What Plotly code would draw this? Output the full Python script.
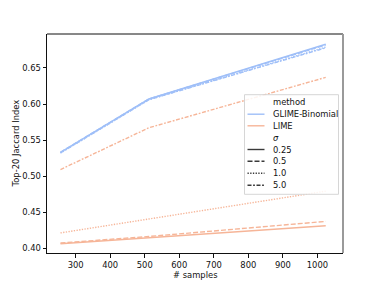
import plotly.graph_objects as go

samples = [256, 512, 1024]
methods = ["GLIME-Binomial", "LIME"]
sigmas = ["0.25", "0.5", "1.0", "5.0"]

glime_025 = [0.533, 0.607, 0.683]
glime_05 = [0.533, 0.607, 0.682]
glime_10 = [0.532, 0.606, 0.679]
glime_50 = [0.532, 0.606, 0.678]
lime_025 = [0.406, 0.414, 0.431]
lime_05 = [0.407, 0.416, 0.437]
lime_10 = [0.421, 0.440, 0.479]
lime_50 = [0.509, 0.567, 0.637]

y_ticks = [0.40, 0.45, 0.50, 0.55, 0.60, 0.65]
x_ticks = [300, 400, 500, 600, 700, 800, 900, 1000]

colors = {"GLIME-Binomial": "#9fbff8", "LIME": "#f6b598"}
dashes = {"0.25": "solid", "0.5": "5px,2px", "1.0": "1.3px,1.4px", "5.0": "4px,1.6px,1.8px,1.6px"}

series = {
    ("GLIME-Binomial", "0.25"): glime_025,
    ("GLIME-Binomial", "0.5"): glime_05,
    ("GLIME-Binomial", "1.0"): glime_10,
    ("GLIME-Binomial", "5.0"): glime_50,
    ("LIME", "0.25"): lime_025,
    ("LIME", "0.5"): lime_05,
    ("LIME", "1.0"): lime_10,
    ("LIME", "5.0"): lime_50,
}

FONT = "DejaVu Sans"
OFF = 8  # page body margin offset
W, H = 381 - OFF, 286 - OFF
L, R, T, B = 47 - OFF, 343 - OFF, 34 - OFF, 253 - OFF

fig = go.Figure()
for (m, s), vals in series.items():
    fig.add_trace(go.Scatter(
        x=samples, y=vals, mode="lines", showlegend=False,
        line=dict(color=colors[m], width=1.4, dash=dashes[s]),
        name=f"{m} σ={s}",
    ))

def px(x):
    return (x - OFF - L) / (R - L)

def py(y):
    return (B - (y - OFF)) / (B - T)

shapes = []
annotations = []
# top spine
shapes.append(dict(type="line", xref="paper", yref="paper", x0=0, x1=1, y0=1, y1=1,
                   line=dict(color="#111", width=1)))
# right spine (greyish)
shapes.append(dict(type="line", xref="paper", yref="paper", x0=1, x1=1, y0=0, y1=1,
                   line=dict(color="#9a9a9a", width=2)))
# legend box
shapes.append(dict(type="rect", xref="paper", yref="paper",
                   x0=px(244.5), x1=px(338.5), y0=py(194.3), y1=py(94.7),
                   line=dict(color="#d6d6d6", width=1), fillcolor="rgba(255,255,255,0.85)",
                   layer="above"))
rows = [("method", None, None), ("GLIME-Binomial", colors["GLIME-Binomial"], "solid"),
        ("LIME", colors["LIME"], "solid"), ("<i>σ</i>", None, None)]
for s in sigmas:
    rows.append((s, "#3a3a3a", dashes[s]))
row_y = [102.5, 114.2, 125.8, 137.5, 149.5, 161.3, 173.2, 185.3]
for (label, col, dash), yy in zip(rows, row_y):
    if col is not None:
        shapes.append(dict(type="line", xref="paper", yref="paper",
                           x0=px(247.5), x1=px(264.5), y0=py(yy), y1=py(yy),
                           line=dict(color=col, width=1.4, dash=dash), layer="above"))
    annotations.append(dict(text=label, xref="paper", yref="paper", x=px(271.3), y=py(yy),
                            xanchor="left", yanchor="middle", showarrow=False,
                            font=dict(family=FONT, size=8.4, color="#111")))

# axis titles placed as annotations for exact positioning
annotations.append(dict(text="# samples", xref="paper", yref="paper", x=0.5, y=py(275),
                        xanchor="center", yanchor="middle", showarrow=False,
                        font=dict(family=FONT, size=8.4, color="#111")))
annotations.append(dict(text="Top-20 Jaccard Index", xref="paper", yref="paper", x=px(15), y=0.5,
                        xanchor="center", yanchor="middle", showarrow=False, textangle=-90,
                        font=dict(family=FONT, size=8.4, color="#111")))

fig.update_layout(
    width=W, height=H,
    margin=dict(l=L, r=W - R, t=T, b=H - B, pad=0),
    paper_bgcolor="white", plot_bgcolor="white",
    font=dict(family=FONT, size=8.4, color="#111"),
    shapes=shapes, annotations=annotations,
    xaxis=dict(range=[217, 1074], tickvals=x_ticks, ticks="outside", ticklen=3.5,
               tickwidth=0.9, tickcolor="#111", showline=True, linecolor="#111", linewidth=1,
               showgrid=False, zeroline=False, automargin=False),
    yaxis=dict(range=[0.3931, 0.6972], tickvals=y_ticks, ticktext=[f"{v:.2f}" for v in y_ticks],
               ticks="outside", ticklen=3.5, tickwidth=0.9, tickcolor="#111",
               showline=True, linecolor="#111", linewidth=1, showgrid=False, zeroline=False,
               automargin=False),
)
fig.write_html("out.html")
